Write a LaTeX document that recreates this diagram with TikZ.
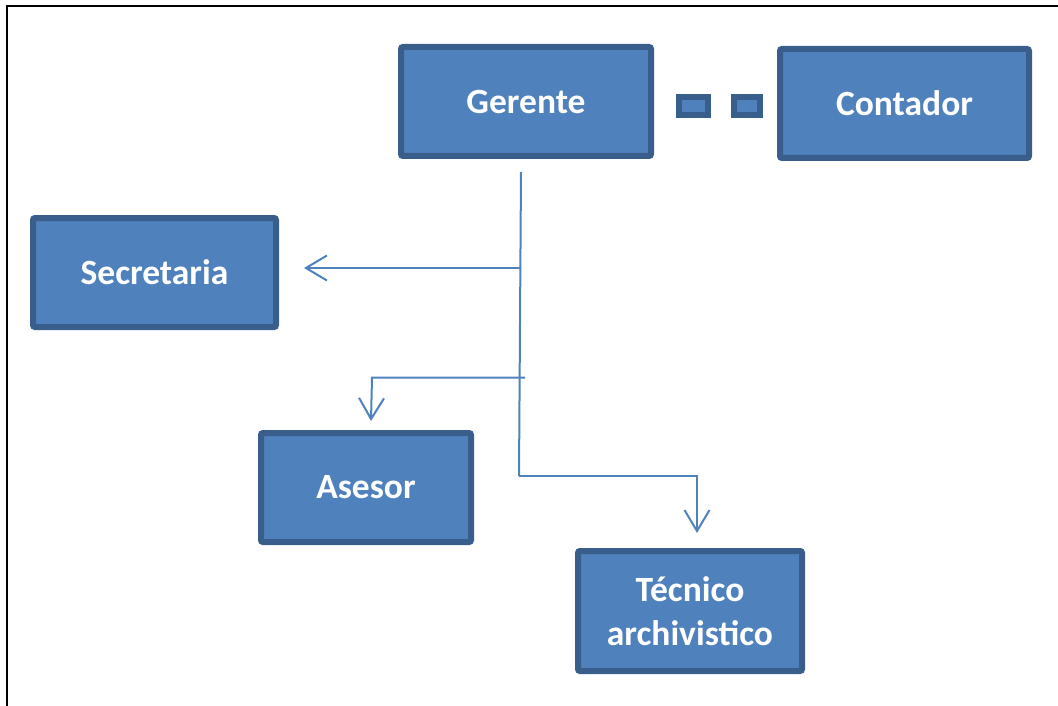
\documentclass[tikz,border=0pt]{standalone}
\usepackage{fontspec}
\setmainfont{Carlito}
\usetikzlibrary{arrows.meta}
\definecolor{boxfill}{HTML}{4F81BD}
\definecolor{boxedge}{HTML}{3A5E8C}
\definecolor{wire}{HTML}{4F81BD}
\begin{document}
\begin{tikzpicture}[x=1pt,y=-1pt,
  orgbox/.style={draw=boxedge, fill=boxfill, line width=6pt, rounded corners=2pt,
    inner sep=0pt, text=white, font=\fontsize{35.5}{44}\selectfont\bfseries, align=center},
  wireline/.style={draw=wire, line width=2pt},
  openhead/.style={-{Straight Barb[length=21pt,width=25pt,line width=2pt]}}]
  \useasboundingbox (0,0) rectangle (1058,706);
  % page frame (top and left edges)
  \draw[line width=2.5pt, black] (7,706) -- (7,6) -- (1058,6);

  \node[orgbox, minimum width=250pt, minimum height=109pt] (ger) at (526,101.5) {Gerente};
  \node[orgbox, minimum width=249pt, minimum height=109pt] (con) at (904.5,103.5) {Contador};
  \node[orgbox, minimum width=243pt, minimum height=109pt] (sec) at (154.5,272.5) {Secretaria};
  \node[orgbox, minimum width=210pt, minimum height=109pt] (ase) at (366,487.5) {Asesor};
  \node[orgbox, minimum width=224pt, minimum height=120pt] (tec) at (690,611) {Técnico\\archivistico};

  % dashed link between Gerente and Contador
  \coordinate (d0) at ([xshift=22pt]ger.east |- 0,106);
  \coordinate (d1) at ([xshift=-14pt]con.west |- 0,106);
  \draw[line width=24pt, boxedge, dash pattern=on 35pt off 20pt on 32pt off 200pt] (d0) -- (d1);
  \draw[line width=12pt, boxfill, dash pattern=on 23pt off 32pt on 20pt off 200pt]
    ([xshift=6pt]d0) -- ([xshift=-6pt]d1);

  % trunk from Gerente
  \coordinate (t0) at (521,172);
  \coordinate (t1) at (519,476);
  \coordinate (jsec) at (520.6,268);
  \coordinate (jase) at (525,377.5);
  \coordinate (kase) at (372,377.5);
  \coordinate (kase2) at (371,421);
  \coordinate (ktec) at (697,476);
  \coordinate (ktec2) at (697,533);
  \coordinate (asec) at ([xshift=25pt]sec.east |- jsec);

  \draw[wireline] (t0) -- (t1);
  \draw[wireline, openhead] (jsec) -- (asec);
  \draw[wireline, openhead] (jase) -- (kase) -- (kase2);
  \draw[wireline, openhead] (t1) -- (ktec) -- (ktec2);
\end{tikzpicture}
\end{document}
